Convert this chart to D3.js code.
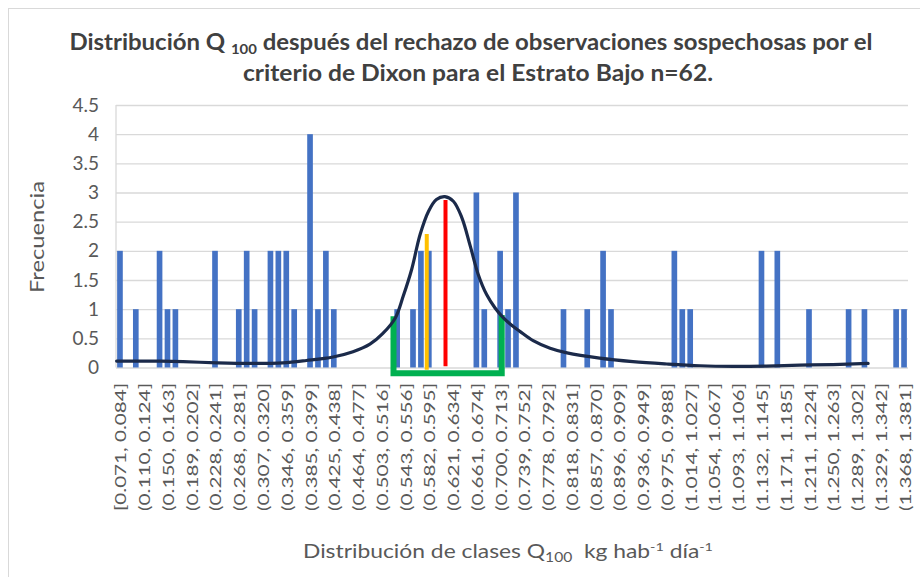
<!DOCTYPE html>
<html>
<head>
<meta charset="utf-8">
<script src="https://cdn.jsdelivr.net/npm/d3@7"></script>
<style>
  html, body { margin: 0; padding: 0; background: #ffffff; }
  svg { display: block; }
  text { font-family: Lato, "Open Sans", sans-serif; }
</style>
</head>
<body>
<svg id="chart" width="920" height="577"></svg>
<script>
// Frequency per class (100 classes of width 0.0131 kg hab-1 día-1)
const freq = [
  2,0,1,0,0,2,1,1,0,0,
  0,0,2,0,0,1,2,1,0,2,
  2,2,1,0,4,1,2,1,0,0,
  0,0,0,0,0,1,0,1,2,2,
  0,0,0,0,0,3,1,0,2,1,
  3,0,0,0,0,0,1,0,0,1,
  0,2,1,0,0,0,0,0,0,0,
  2,1,1,0,0,0,0,0,0,0,
  0,2,0,2,0,0,0,1,0,0,
  0,0,1,0,1,0,0,0,1,1
];

// Class labels shown on the axis (every third class)
const classLabels = [
  "[0.071, 0.084]", "(0.110, 0.124]", "(0.150, 0.163]", "(0.189, 0.202]",
  "(0.228, 0.241]", "(0.268, 0.281]", "(0.307, 0.320]", "(0.346, 0.359]",
  "(0.385, 0.399]", "(0.425, 0.438]", "(0.464, 0.477]", "(0.503, 0.516]",
  "(0.543, 0.556]", "(0.582, 0.595]", "(0.621, 0.634]", "(0.661, 0.674]",
  "(0.700, 0.713]", "(0.739, 0.752]", "(0.778, 0.792]", "(0.818, 0.831]",
  "(0.857, 0.870]", "(0.896, 0.909]", "(0.936, 0.949]", "(0.975, 0.988]",
  "(1.014, 1.027]", "(1.054, 1.067]", "(1.093, 1.106]", "(1.132, 1.145]",
  "(1.171, 1.185]", "(1.211, 1.224]", "(1.250, 1.263]", "(1.289, 1.302]",
  "(1.329, 1.342]", "(1.368, 1.381]"
];
const labelEvery = 3;

const yTicks = [0, 0.5, 1, 1.5, 2, 2.5, 3, 3.5, 4, 4.5];

// Fitted density curve (kg hab-1 día-1, frequency)
const curveQ = [0.072, 0.127, 0.182, 0.238, 0.293, 0.347, 0.386, 0.430, 0.463, 0.491,
  0.512, 0.533, 0.546, 0.560, 0.574, 0.588, 0.601, 0.615, 0.629, 0.643,
  0.657, 0.670, 0.684, 0.698, 0.711, 0.726, 0.739, 0.761, 0.789, 0.817,
  0.871, 0.926, 0.982, 1.037, 1.092, 1.147, 1.202, 1.257, 1.315];
const curveF = [0.11, 0.11, 0.10, 0.08, 0.07, 0.08, 0.12, 0.18, 0.27, 0.40,
  0.58, 0.85, 1.22, 1.68, 2.28, 2.68, 2.88, 2.93, 2.85, 2.57,
  2.08, 1.60, 1.25, 1.02, 0.86, 0.72, 0.62, 0.46, 0.33, 0.25,
  0.16, 0.10, 0.06, 0.03, 0.02, 0.025, 0.04, 0.05, 0.07];

// Reference markers
const medianQ = 0.585, medianTop = 2.29;
const modeQ = 0.616, modeTop = 2.87;
const bandQ = [0.530, 0.709], bandTop = [0.88, 0.90], bandBottom = -0.1;

const qDomain = [0.071, 1.381];

const svg = d3.select("#chart");
const plot = { left: 116, right: 908, top: 105, bottom: 367.5 };

// chart frame
svg.append("rect")
  .attr("x", 8.5).attr("y", 8.5).attr("width", 940).attr("height", 620)
  .attr("fill", "#fff").attr("stroke", "#D9D9D9").attr("stroke-width", 1);

const x = d3.scaleBand()
  .domain(freq.map((d, i) => i))
  .range([plot.left, plot.right])
  .paddingInner(0.2857).paddingOuter(0.1428);
const xq = d3.scaleLinear().domain(qDomain).range([plot.left, plot.right]);
const y = d3.scaleLinear().domain([0, 4.5]).range([plot.bottom, plot.top]);

// y axis with gridlines
const gy = svg.append("g")
  .attr("transform", `translate(${plot.left},0)`)
  .call(d3.axisLeft(y).tickValues(yTicks)
    .tickSize(-(plot.right - plot.left)).tickPadding(17)
    .tickFormat(d => String(d)));
gy.select(".domain").remove();
gy.selectAll("line").attr("stroke", "#D9D9D9").attr("stroke-width", 1.3);
gy.selectAll("text").attr("fill", "#595959").attr("font-size", 19)
  .attr("font-family", "Lato, sans-serif");

svg.append("line")
  .attr("x1", plot.left).attr("x2", plot.left)
  .attr("y1", plot.top).attr("y2", plot.bottom)
  .attr("stroke", "#D9D9D9").attr("stroke-width", 1.3);

// x axis labels (rotated)
const labelIdx = classLabels.map((d, k) => k * labelEvery);
const gx = svg.append("g")
  .attr("transform", `translate(0,${plot.bottom})`)
  .call(d3.axisBottom(x).tickValues(labelIdx).tickSize(0)
    .tickFormat(i => classLabels[i / labelEvery]));
gx.select(".domain").remove();
gx.selectAll("text")
  .attr("x", 0).attr("y", 0).attr("dy", null)
  .attr("text-anchor", "end")
  .attr("dominant-baseline", "central")
  .attr("transform", "translate(0,15.5) rotate(-90)")
  .attr("fill", "#595959").attr("font-size", 16)
  .attr("font-family", "Lato, sans-serif")
  .attr("textLength", 128).attr("lengthAdjust", "spacingAndGlyphs");

// bars
svg.append("g").selectAll("rect")
  .data(freq.map((v, i) => ({ i, v })).filter(d => d.v > 0))
  .join("rect")
  .attr("x", d => x(d.i))
  .attr("width", x.bandwidth())
  .attr("y", d => y(d.v))
  .attr("height", d => y(0) - y(d.v))
  .attr("fill", "#4472C4");

// green interval bracket
svg.append("path")
  .attr("d", d3.line()([
    [xq(bandQ[0]), y(bandTop[0])],
    [xq(bandQ[0]), y(bandBottom)],
    [xq(bandQ[1]), y(bandBottom)],
    [xq(bandQ[1]), y(bandTop[1])]
  ]))
  .attr("fill", "none").attr("stroke", "#00B050").attr("stroke-width", 6)
  .attr("stroke-linejoin", "miter");

// median and mode markers
svg.append("line")
  .attr("x1", xq(medianQ)).attr("x2", xq(medianQ))
  .attr("y1", y(-0.04)).attr("y2", y(medianTop))
  .attr("stroke", "#FFC000").attr("stroke-width", 4);
svg.append("line")
  .attr("x1", xq(modeQ)).attr("x2", xq(modeQ))
  .attr("y1", y(0.02)).attr("y2", y(modeTop))
  .attr("stroke", "#FF0000").attr("stroke-width", 4);

// density curve
svg.append("path")
  .datum(curveQ.map((q, k) => [q, curveF[k]]))
  .attr("d", d3.line().x(d => xq(d[0])).y(d => y(d[1])).curve(d3.curveCatmullRom.alpha(0.5)))
  .attr("fill", "none").attr("stroke", "#1B2A4A").attr("stroke-width", 3.2)
  .attr("stroke-linecap", "round");

// titles
const title = svg.append("g").attr("fill", "#404040").attr("font-weight", 700)
  .attr("font-family", "Lato, sans-serif");
const t1 = title.append("text").attr("x", 471).attr("y", 50)
  .attr("text-anchor", "middle").attr("font-size", 22.5)
  .attr("textLength", 803).attr("lengthAdjust", "spacingAndGlyphs");
t1.append("tspan").text("Distribución Q ");
t1.append("tspan").attr("font-size", 14).attr("dy", 4).text("100");
t1.append("tspan").attr("dy", -4).text(" después del rechazo de observaciones sospechosas por el");
title.append("text").attr("x", 478).attr("y", 81)
  .attr("text-anchor", "middle").attr("font-size", 22.5)
  .attr("textLength", 470).attr("lengthAdjust", "spacingAndGlyphs")
  .text("criterio de Dixon para el Estrato Bajo n=62.");

svg.append("text")
  .attr("transform", "translate(44,237) rotate(-90)")
  .attr("text-anchor", "middle").attr("fill", "#595959")
  .attr("font-size", 20).attr("font-family", "Lato, sans-serif")
  .attr("textLength", 112).attr("lengthAdjust", "spacingAndGlyphs")
  .text("Frecuencia");

const xt = svg.append("text")
  .attr("x", 508).attr("y", 558)
  .attr("text-anchor", "middle").attr("fill", "#595959")
  .attr("font-size", 19).attr("font-family", "Lato, sans-serif")
  .attr("textLength", 410).attr("lengthAdjust", "spacingAndGlyphs");
xt.append("tspan").text("Distribución de clases Q");
xt.append("tspan").attr("font-size", 13).attr("dy", 4).text("100");
xt.append("tspan").attr("dy", -4).text("\u00A0 kg hab");
xt.append("tspan").attr("font-size", 12).attr("dy", -7).text("-1");
xt.append("tspan").attr("dy", 7).text(" día");
xt.append("tspan").attr("font-size", 12).attr("dy", -7).text("-1");
</script>
</body>
</html>
